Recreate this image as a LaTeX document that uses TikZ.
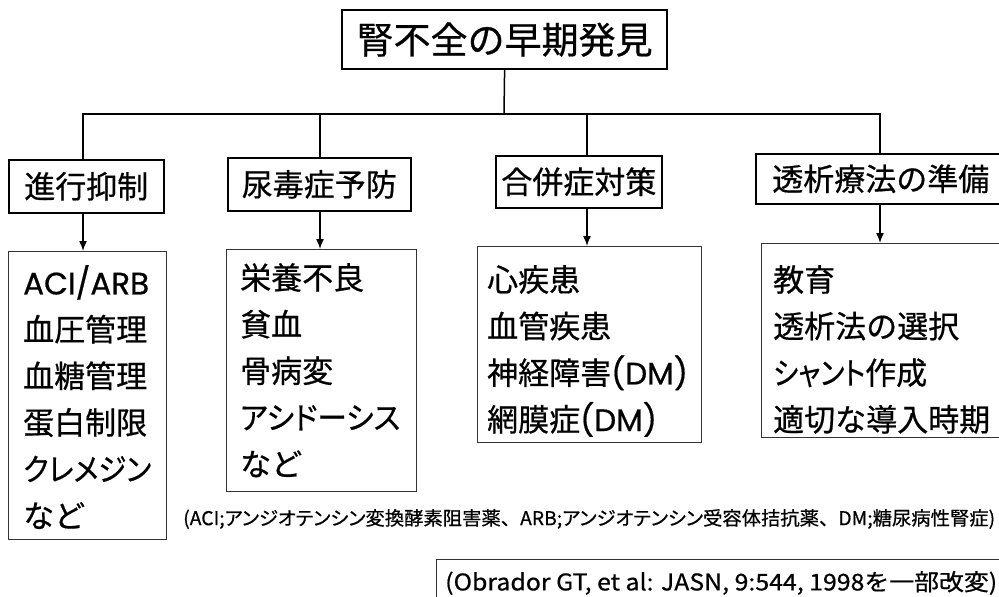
\documentclass[tikz,border=0pt]{standalone}
\usepackage{fontspec}
\setmainfont{Noto Sans CJK JP}[FakeBold=0.6]
\newfontfamily\kp{Noto Sans CJK JP}[FakeBold=0.6,RawFeature=+palt]
\newfontfamily\lat{Poppins}[FakeBold=0.6]
\newcommand{\kfit}[2]{\resizebox{#1}{\height}{\kp #2}}
\usetikzlibrary{arrows.meta}
\begin{document}
\begin{tikzpicture}[x=1pt,y=-1pt,
  titlebox/.style={draw, line width=2.2pt, anchor=north west, inner sep=0pt,
    minimum width=325pt, minimum height=59pt, font=\fontsize{37pt}{40pt}\selectfont},
  headbox/.style={draw, line width=1.6pt, anchor=north west, inner sep=0pt,
    font=\fontsize{31pt}{34pt}\selectfont},
  listbox/.style={draw=black!80, line width=1pt, anchor=north west, inner sep=0pt},
  listtext/.style={anchor=north west, inner sep=0pt, align=left,
    font=\fontsize{31pt}{46.6pt}\selectfont},
  link/.style={line width=1.5pt},
  arrow/.style={link, -{Latex[length=10pt,width=8pt]}}]
\useasboundingbox[fill=white] (0,0) rectangle (999,597);

\node[titlebox] (title) at (341,9) {腎不全の早期発見};

\node[headbox, minimum width=155pt, minimum height=53pt] (h1) at (8,159) {進行抑制};
\node[headbox, minimum width=183pt, minimum height=53pt] (h2) at (227,157) {尿毒症予防};
\node[headbox, minimum width=166pt, minimum height=52pt] (h3) at (495,155) {合併症対策};
\node[headbox, minimum width=250pt, minimum height=50pt] (h4) at (755,153) {透析療法の準備};

\node[listbox, minimum width=158pt, minimum height=288pt] (c1) at (8,251) {};
\node[listbox, minimum width=190pt, minimum height=242pt] (c2) at (226,249) {};
\node[listbox, minimum width=224pt, minimum height=196pt] (c3) at (477,246) {};
\node[listbox, minimum width=250pt, minimum height=194pt] (c4) at (761,243) {};

\node[listtext] (t1) at (23,265) {{\lat ACI/ARB}\\血圧管理\\血糖管理\\蛋白制限\\\kfit{128pt}{クレメジン}\\など};
\node[listtext] (t2) at (240,263) {栄養不良\\貧血\\骨病変\\\kfit{160pt}{アシドーシス}\\など};
\node[listtext] (t3) at (487,265) {心疾患\\血管疾患\\神経障害{\lat (DM)}\\網膜症{\lat (DM)}};
\node[listtext] (t4) at (773,265) {教育\\透析法の選択\\\kfit{92pt}{シャント}作成\\適切な導入時期};

\coordinate (bus) at (504,114);
\coordinate (j1) at (83,114);
\coordinate (j2) at (320,114);
\coordinate (j3) at (587,114);
\coordinate (j4) at (880,114);

\draw[link] (title.south) -- (bus);
\draw[link] (j1 |- h1.north) -- (j1) -- (j4) -- (j4 |- h4.north);
\draw[link] (j2) -- (j2 |- h2.north);
\draw[link] (j3) -- (j3 |- h3.north);

\draw[arrow] (j1 |- h1.south) -- (j1 |- c1.north);
\draw[arrow] (j2 |- h2.south) -- (j2 |- c2.north);
\draw[arrow] (j3 |- h3.south) -- (j3 |- c3.north);
\draw[arrow] (j4 |- h4.south) -- (j4 |- c4.north);

\node[anchor=west, inner sep=0pt] (note) at (183,519)
  {\resizebox{812pt}{\height}{\fontsize{19pt}{21pt}\selectfont (ACI;{\kp アンジオテンシン}変換酵素阻害薬、ARB;{\kp アンジオテンシン}受容体拮抗薬、DM;糖尿病性腎症)}};

\node[draw=black!80, line width=1pt, anchor=north west, inner sep=0pt,
  minimum width=580pt, minimum height=60pt] (src) at (436,559) {};
\node[anchor=west, inner sep=0pt] (srctext) at (445,583)
  {\resizebox{552pt}{\height}{\fontsize{23pt}{25pt}\selectfont (Obrador GT, et al: JASN, 9:544, 1998を一部改変)}};
\end{tikzpicture}
\end{document}
